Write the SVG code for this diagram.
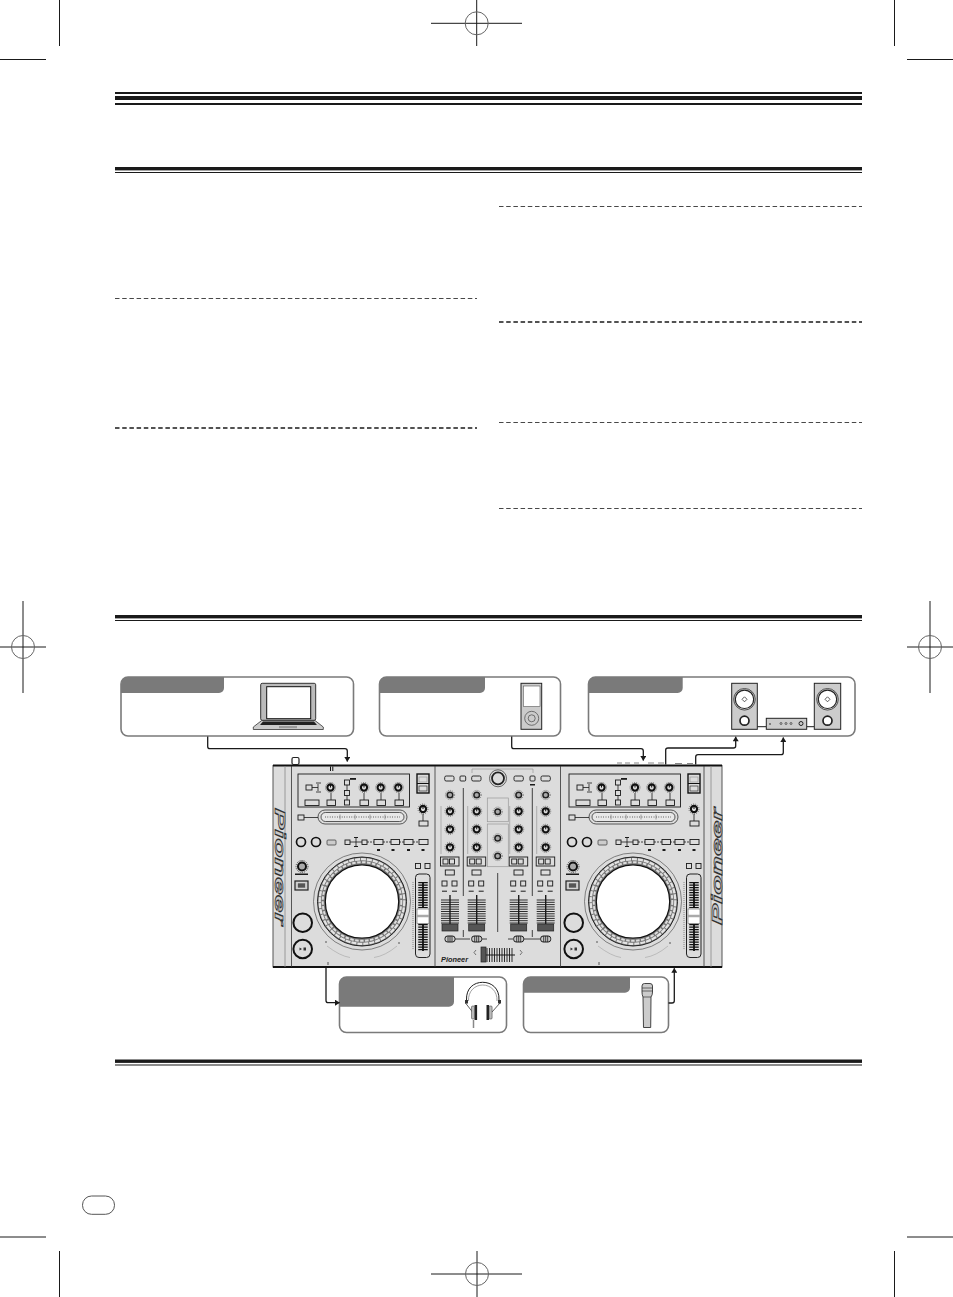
<svg xmlns="http://www.w3.org/2000/svg" xmlns:xlink="http://www.w3.org/1999/xlink" width="953" height="1297" viewBox="0 0 953 1297">
<style>
.crop{stroke:#1a1a1a;stroke-width:1;fill:none}
.cropc{stroke:#666;stroke-width:1;fill:none}
.rule{fill:#1a1a1a}
.box{fill:#fff;stroke:#7a7a7a;stroke-width:1.6}
.hdr{fill:#7a7a7a}
.conn{fill:none;stroke:#1a1a1a;stroke-width:1.3}
.l{fill:none;stroke:#1a1a1a;stroke-width:.8}
.b{fill:#dcdcdc;stroke:#1a1a1a;stroke-width:.9}
.g{fill:none;stroke:#999;stroke-width:.7}
.bl{fill:#1a1a1a}
.logo{font-family:"Liberation Sans",Arial,sans-serif;font-weight:bold;font-style:italic}
</style>
<defs>
<marker id="ah" viewBox="0 0 8 10" refX="7.5" refY="5" markerWidth="6.5" markerHeight="6" markerUnits="userSpaceOnUse" orient="auto"><path d="M0 0L8 5L0 10z" fill="#1a1a1a"/></marker>
<g id="k"><circle r="5" fill="none" stroke="#666" stroke-width="1" stroke-dasharray="1 1.2"/><circle r="3.1" fill="#dcdcdc" stroke="#111" stroke-width="2.1"/><path d="M0 0V-3" stroke="#111" stroke-width="1"/></g>
<g id="ks"><circle r="4.6" fill="none" stroke="#777" stroke-width="1" stroke-dasharray="1 1.1"/><circle r="2.8" fill="#aaa" stroke="#222" stroke-width="1.5"/></g>
<g id="fad"><path d="M-9 1H9M-9 3.3H9M-9 5.6H9M-9 7.9H9M-9 10.2H9M-9 12.5H9M-9 14.8H9M-9 17.1H9M-9 19.4H9M-9 21.7H9M-9 24H9" stroke="#1a1a1a" stroke-width=".9"/><path d="M0 -4V26" stroke="#1a1a1a" stroke-width="1.4"/><rect x="-8" y="25" width="16" height="7" fill="#555" stroke="#222" stroke-width=".7"/></g>
<g id="sw"><rect x="-5" y="-3" width="10" height="6" rx="2.5" fill="#ccc" stroke="#1a1a1a"/><path d="M-2 -3V3M0 -3V3M2 -3V3" stroke="#1a1a1a" stroke-width=".8"/></g>
<g id="chan">
<use xlink:href="#ks" y="795"/><use xlink:href="#k" y="811.3"/><use xlink:href="#k" y="829.3"/><use xlink:href="#k" y="847.3"/>
<path class="g" d="M-9 806V854"/>
<rect class="b" x="-9.5" y="857" width="18.5" height="9"/><rect class="b" x="-7" y="859" width="5" height="5"/><rect class="b" x="-.5" y="859" width="5" height="5"/>
<rect class="b" x="-4.7" y="870" width="9" height="5"/>
<rect class="b" x="-8" y="881" width="5" height="5"/><rect class="b" x="2" y="881" width="5" height="5"/>
<path d="M-8 891.2H-3M2 891.2H7" stroke="#1a1a1a"/>
<use xlink:href="#fad" y="899"/><use xlink:href="#sw" y="939"/>
</g>
<g id="deck">
<rect class="b" x="298" y="774" width="111.5" height="33"/>
<rect class="b" x="306" y="785" width="6" height="5"/><path class="l" d="M312 787.5H318M318 784V791M316 783H321M316 792H321"/>
<use xlink:href="#k" x="330.5" y="787.5"/><use xlink:href="#k" x="364" y="787.5"/><use xlink:href="#k" x="380.7" y="787.5"/><use xlink:href="#k" x="398.3" y="787.5"/>
<rect class="b" x="344.5" y="780" width="5" height="5"/><rect class="b" x="344.5" y="790.5" width="5" height="5"/><rect class="b" x="344.5" y="800" width="5" height="5"/><path class="l" d="M347 785V790.5M347 795.5V800"/>
<rect class="bl" x="350" y="778" width="6" height="1.8"/>
<rect class="b" x="305" y="800" width="14" height="5.5"/><rect class="b" x="327" y="800" width="8.5" height="5.5"/><rect class="b" x="360" y="800" width="8.5" height="5.5"/><rect class="b" x="377" y="800" width="8.5" height="5.5"/><rect class="b" x="395" y="800" width="8.5" height="5.5"/>
<path class="l" d="M331 793V800M364 793V800M381 793V800M399 793V800"/>
<rect x="318" y="810" width="89" height="14" rx="7" fill="none" stroke="#333" stroke-width=".8"/><rect x="321" y="812.5" width="83" height="9" rx="4.5" fill="#e8e8e8" stroke="#333" stroke-width=".8"/>
<path d="M325 817H400" stroke="#777" stroke-width="1.6" stroke-dasharray=".8 1.6"/>
<path d="M340 814.5V819.5M355 814.5V819.5M370 814.5V819.5M385 814.5V819.5" stroke="#666" stroke-width=".6"/>
<rect class="b" x="298" y="815" width="6" height="5"/><path class="l" d="M304 817.5H318"/>
<rect x="417" y="774" width="12" height="19" fill="#dcdcdc" stroke="#111" stroke-width="1.4"/><rect class="g" x="419" y="777" width="8" height="5"/><rect x="419" y="786" width="8" height="5" fill="none" stroke="#333" stroke-width=".7"/><path d="M417 783.5H429" stroke="#111"/>
<use xlink:href="#k" x="423" y="809"/><path class="l" d="M423 814V821"/><rect class="b" x="419" y="821" width="9" height="5"/>
<circle cx="301" cy="842" r="4.5" fill="none" stroke="#111" stroke-width="1.7"/><circle cx="316" cy="842" r="4.5" fill="none" stroke="#111" stroke-width="1.7"/>
<rect x="327" y="840" width="9" height="5" rx="1" fill="#ccc" stroke="#444" stroke-width=".8"/>
<rect class="b" x="345" y="840" width="5" height="4.5"/><path class="l" d="M350 842H362M356 838V846"/><rect class="bl" x="354" y="837" width="4" height="1"/><rect class="bl" x="354" y="846" width="4" height="1"/>
<rect class="b" x="362" y="840" width="5" height="4.5"/><path class="l" d="M367 842H374M383 842H391M399 842H404M413 842H419" stroke-dasharray="2 1"/>
<rect class="b" x="374" y="839.5" width="9" height="5"/><rect class="b" x="391" y="839.5" width="8.5" height="5"/><rect class="b" x="404" y="839.5" width="9" height="5"/><rect class="b" x="419" y="839.5" width="9" height="5"/>
<rect class="bl" x="377" y="849" width="3" height="2"/><rect class="bl" x="391.5" y="849" width="3" height="2"/><rect class="bl" x="407" y="849" width="3" height="2"/><rect class="bl" x="421.5" y="849" width="3" height="2"/>
<circle cx="302" cy="866.5" r="4" fill="#aaa" stroke="#111" stroke-width="2"/><circle cx="302" cy="866.5" r="6" fill="none" stroke="#444" stroke-dasharray="1 1"/><rect class="bl" x="295" y="873.5" width="13" height="1.5"/>
<rect x="295" y="881" width="13" height="9" fill="#ccc" stroke="#222" stroke-width="1.2"/><rect x="297.5" y="883" width="8" height="5" fill="#555" stroke="#eee" stroke-width=".5"/>
<circle cx="302.7" cy="922.7" r="9.3" fill="none" stroke="#111" stroke-width="2"/><circle cx="302.7" cy="949" r="9.3" fill="none" stroke="#111" stroke-width="2"/><path d="M299.5 947.5L302 949L299.5 950.5zM303.5 947.5H306V950.500H303.5z" fill="#333"/>
<circle cx="362" cy="901.5" r="48.5" fill="none" stroke="#555" stroke-width=".7"/>
<circle cx="362" cy="901.5" r="44.5" fill="#777" stroke="#222" stroke-width="1"/>
<circle cx="362" cy="901.5" r="42.3" fill="none" stroke="#e4e4e4" stroke-width="2.3" stroke-dasharray="5 1"/>
<circle cx="362" cy="901.5" r="39.3" fill="none" stroke="#ddd" stroke-width="2" stroke-dasharray="3.500 1.500"/>
<circle cx="362" cy="901.5" r="36.7" fill="#fff" stroke="#111" stroke-width="1.2"/>
<rect class="b" x="415.5" y="863.5" width="5" height="5"/><rect class="b" x="425" y="863.5" width="5" height="5"/>
<rect x="415.5" y="874" width="14.5" height="83.5" rx="3.5" fill="#dcdcdc" stroke="#222" stroke-width="1"/>
<path d="M423 882V908M423 924V951" stroke="#111" stroke-width="9.500" stroke-dasharray="1.200 1.300"/>
<path d="M423 882V908M423 924V951" stroke="#111" stroke-width="1.800"/>
<rect x="417" y="909" width="12" height="14.500" fill="#fff" stroke="#777" stroke-width=".7"/><path d="M417 916H429" stroke="#aaa" stroke-width="2.500"/>
<path d="M413 882V950" stroke="#666" stroke-width=".7" stroke-dasharray="1 1"/>
<path d="M325 942H327M399 942V944M328 962V965" stroke="#333" stroke-width=".8"/>
<path d="M327 946Q340 956 350 957.500M374 957.500Q385 956 397 946" stroke="#999" stroke-width=".5" fill="none"/>
</g>
</defs>
<rect width="953" height="1297" fill="#fff"/>

<g id="crop-marks">
<path class="crop" d="M59.5 0V46M0 59.5H46M894.5 0V46M907 59.5H953M476.7 0V46M431 23.3H522M23 601V693M0 647H46M930 601V693M907 647H953M477 1251V1297M431 1274H522M59.5 1251V1297M0 1237H46M894.5 1251V1297M907 1237H953"/>
<circle class="cropc" cx="476.7" cy="23.3" r="11.5"/><circle class="cropc" cx="23" cy="647" r="11.5"/><circle class="cropc" cx="930" cy="647" r="11.5"/><circle class="cropc" cx="477" cy="1274" r="11.5"/>
</g>

<g id="rules">
<rect class="rule" x="115" y="92" width="747" height="2"/><rect class="rule" x="115" y="96" width="747" height="4"/><rect class="rule" x="115" y="103" width="747" height="2"/>
<rect class="rule" x="115" y="167" width="747" height="3.4"/><rect class="rule" x="115" y="172" width="747" height="1"/>
<rect class="rule" x="115" y="615" width="747" height="3.4"/><rect class="rule" x="115" y="620" width="747" height="1"/>
<rect class="rule" x="115" y="1059.5" width="747" height="3.4"/><rect class="rule" x="115" y="1064.5" width="747" height="1"/>
<g fill="none" stroke-dasharray="4.5 2.7">
<path d="M115 298.5H477M499 206.5H862M499 422.5H862M499 508.5H862" stroke="#333" stroke-width=".9"/>
<path d="M115 428H477M499 322H862" stroke="#1a1a1a" stroke-width="1.6"/>
</g>
<rect x="82.5" y="1196" width="32" height="18.3" rx="9" fill="none" stroke="#555" stroke-width="1"/>
</g>

<g id="computer">
<rect class="box" x="121" y="677" width="232.5" height="59" rx="7"/>
<path class="hdr" d="M121 684a7 7 0 0 1 7-7H224V688a5 5 0 0 1-5 5H121z"/>
<rect x="260.7" y="683.3" width="55" height="37" rx="1.5" fill="#bbb" stroke="#333"/>
<rect x="266.7" y="686.7" width="44" height="32" fill="#fff" stroke="#111"/>
<path d="M261.7 720.5H315L323.3 727V729.5H253.3V727z" fill="#ccc" stroke="#333" stroke-width=".8"/>
<path d="M260 725L263 721.5H314L317 725z" fill="#222"/>
<rect x="279" y="726" width="18" height="2.2" fill="#999"/>
</g>

<g id="player">
<rect class="box" x="379.5" y="677" width="181" height="59" rx="7"/>
<path class="hdr" d="M379.5 684a7 7 0 0 1 7-7H485V688a5 5 0 0 1-5 5H379.5z"/>
<rect x="521" y="683.3" width="20.7" height="46" fill="#ccc" stroke="#222"/>
<rect x="523.3" y="686" width="16.7" height="20.6" fill="#fff" stroke="#555" stroke-width=".6"/>
<circle cx="531.7" cy="718.3" r="7" fill="#ccc" stroke="#555" stroke-width=".8"/><circle cx="531.7" cy="718.3" r="3.5" fill="#ccc" stroke="#555" stroke-width=".8"/>
</g>

<g id="speakers">
<rect class="box" x="588.5" y="677" width="266.5" height="59" rx="7"/>
<path class="hdr" d="M588.5 684a7 7 0 0 1 7-7H682.7V688a5 5 0 0 1-5 5H588.5z"/>
<path d="M757 726.7H766.3M806.7 726.7H814.3" stroke="#1a1a1a" stroke-width="1"/>
<g id="spk-l"><rect x="731.7" y="683.3" width="25.6" height="46" fill="#ccc" stroke="#222"/><circle cx="744.5" cy="699.3" r="10.8" fill="none" stroke="#444" stroke-width=".9"/><circle cx="744.5" cy="699.3" r="9.2" fill="#fff" stroke="#222" stroke-width="1.2"/><path d="M744.5 696.8L747 699.3L744.5 701.8L742 699.3z" fill="none" stroke="#333" stroke-width=".8"/><circle cx="744.5" cy="720.7" r="4.5" fill="#fff" stroke="#222" stroke-width="1.7"/></g>
<g id="spk-r"><rect x="814.3" y="683.3" width="26.4" height="46" fill="#ccc" stroke="#222"/><circle cx="827.5" cy="699.3" r="10.8" fill="none" stroke="#444" stroke-width=".9"/><circle cx="827.5" cy="699.3" r="9.2" fill="#fff" stroke="#222" stroke-width="1.2"/><path d="M827.5 696.8L830 699.3L827.5 701.8L825 699.3z" fill="none" stroke="#333" stroke-width=".8"/><circle cx="827.5" cy="720.7" r="4.5" fill="#fff" stroke="#222" stroke-width="1.7"/></g>
<rect x="766.3" y="718.3" width="40.4" height="11" fill="#ccc" stroke="#222"/>
<circle cx="781" cy="723.5" r="1" fill="none" stroke="#333" stroke-width=".7"/><circle cx="786" cy="723.5" r="1" fill="none" stroke="#333" stroke-width=".7"/><circle cx="791" cy="723.5" r="1" fill="none" stroke="#333" stroke-width=".7"/><circle cx="801" cy="723.5" r="2" fill="none" stroke="#222"/><path d="M769 724H771" stroke="#333"/>
</g>

<g id="headphones">
<rect class="box" x="339.5" y="977" width="167" height="55.5" rx="7"/>
<path class="hdr" d="M339.5 984a7 7 0 0 1 7-7H454V1001.7a5 5 0 0 1-5 5H339.5z"/>
<path d="M466.500 1000C466 988 474 982.300 482.700 982.300S499.500 988 499 1000" fill="none" stroke="#222" stroke-width="1"/>
<path d="M468.500 1001C468 991 475 985 482.700 985S497.500 991 497 1001" fill="none" stroke="#888" stroke-width=".8"/>
<path d="M465.500 1003L472.500 1012M500 1003L492 1012" fill="none" stroke="#333" stroke-width=".8"/>
<rect x="465" y="1000" width="3" height="3.500" fill="#333"/><rect x="498" y="1000" width="3" height="3.500" fill="#333"/>
<rect x="474.500" y="1005" width="2.600" height="15" fill="#222"/><rect x="471.500" y="1006" width="3" height="13" rx="1" fill="#bbb" stroke="#333" stroke-width=".5"/>
<rect x="486.500" y="1005" width="2.600" height="15" fill="#222"/><rect x="489.100" y="1006" width="3" height="13" rx="1" fill="#bbb" stroke="#333" stroke-width=".5"/>
<path d="M473.500 1020V1028" stroke="#888" stroke-width="1.500"/>
</g>

<g id="microphone">
<rect class="box" x="523.500" y="977" width="145" height="55.500" rx="7"/>
<path class="hdr" d="M523.500 984a7 7 0 0 1 7-7H630V987.700a5 5 0 0 1-5 5H523.500z"/>
<path d="M642 986a2.500 2.500 0 0 1 2.500-2.500H650a2.500 2.500 0 0 1 2.500 2.500V992Q652.500 995 651 997L650.700 1027.500H643.500L643 997Q642 995 642 992z" fill="#ccc" stroke="#333" stroke-width=".9"/>
<path d="M642 988H652.500M642 991H652.500M643 997H651" stroke="#333" stroke-width=".7"/>
</g>

<g id="controller">
<rect x="273" y="765" width="449" height="202.500" fill="#dcdcdc"/>
<path d="M273 765V967.500H722V765" fill="none" stroke="#555" stroke-width="1"/>
<path d="M273 765.500H722M273 967H722" stroke="#111" stroke-width="2"/>
<path d="M291.500 766V967M435 766V967M560.500 766V967M704 766V967" stroke="#333" stroke-width=".8"/>
<path d="M285 766V967M711 766V967" stroke="#888" stroke-width=".8"/>
<rect x="292" y="757.500" width="7" height="7" rx="1.500" fill="#fff" stroke="#222" stroke-width="1.200"/>
<path d="M330.500 766.500V771M332.800 766.500V771" stroke="#111" stroke-width="1"/>
<path d="M617 763H622M625 763H630M634 763H639M648 763H654M658 763H664M675 763.500H682M687 763.500H693" stroke="#888" stroke-width="1"/>
<text class="logo" transform="translate(274.500 808) rotate(90)" font-size="14" textLength="117" lengthAdjust="spacingAndGlyphs" fill="#c8c8c8" stroke="#333" stroke-width=".7">Pioneer</text>
<text class="logo" transform="translate(721.500 925) rotate(-90)" font-size="14" textLength="117" lengthAdjust="spacingAndGlyphs" fill="#c8c8c8" stroke="#333" stroke-width=".7">Pioneer</text>
<use id="deck-left" xlink:href="#deck"/>
<use id="deck-right" xlink:href="#deck" x="271"/>
<g id="mixer">
<rect class="b" x="444.700" y="776" width="9.300" height="5" rx="1.500"/><rect class="b" x="460" y="776" width="5.700" height="5" rx="1"/><rect class="b" x="471.700" y="776" width="9.300" height="5" rx="1.500"/>
<rect class="b" x="514" y="776" width="9.300" height="5" rx="1.500"/><rect class="b" x="530" y="776" width="5" height="5" rx="1"/><rect class="b" x="541" y="776" width="9.300" height="5" rx="1.500"/>
<rect class="bl" x="530" y="784" width="5" height="1.500"/>
<path class="g" d="M472 773V769H533V773"/>
<circle cx="498" cy="778.300" r="8.500" fill="none" stroke="#444" stroke-width=".8"/><circle cx="498" cy="778.300" r="6" fill="#dcdcdc" stroke="#222" stroke-width="1.800"/>
<use xlink:href="#chan" x="450"/><use xlink:href="#chan" x="476.700"/><use xlink:href="#chan" x="518.700"/><use xlink:href="#chan" x="545.700"/>
<path class="l" stroke-width="1" d="M463.300 788V896M532.300 788V896M497.700 873V932M463.300 930V937M532.300 930V937"/>
<path class="l" stroke-width="1" d="M455 939H470M482 939H487M508 939H513M523.700 939H540.700"/>
<rect class="g" x="487.300" y="798" width="21" height="23.700"/><rect class="g" x="487.300" y="824" width="21" height="42.700"/>
<use xlink:href="#ks" x="497.700" y="811.700"/><use xlink:href="#ks" x="497.700" y="838.300"/><use xlink:href="#ks" x="497.700" y="856"/>
<path d="M486 955H515" stroke="#1a1a1a" stroke-width="1"/>
<path d="M487 948V962M489.500 948V962M492 948V962M494.500 948V962M497 948V962M499.500 948V962M502 948V962M504.500 948V962M507 948V962M509.500 948V962M512 948V962" stroke="#1a1a1a" stroke-width=".9"/>
<rect x="481" y="947" width="5" height="15" fill="#555" stroke="#222" stroke-width=".7"/>
<path d="M476 950L474 952.500L476 955M520 950L522 952.500L520 955" fill="none" stroke="#444" stroke-width=".7"/>
<text class="logo" x="441" y="962" font-size="6.500" textLength="27" lengthAdjust="spacingAndGlyphs" fill="#222">Pioneer</text>
</g>
</g>

<g id="connectors">
<path class="conn" marker-end="url(#ah)" d="M207.700 736.500V746.500Q207.700 748.700 210 748.700H345Q347.300 748.700 347.300 751V761.500"/>
<path class="conn" marker-end="url(#ah)" d="M511.700 736.500V746.500Q511.700 748.700 514 748.700H641Q643.300 748.700 643.300 751V760.500"/>
<path class="conn" marker-end="url(#ah)" d="M665.700 764.500V750Q665.700 748 668 748H733.500Q735.700 748 735.700 746V736.700"/>
<path class="conn" marker-end="url(#ah)" d="M695.700 764.500V757Q695.700 754.700 698 754.700H781Q783.300 754.700 783.300 752.500V737.500"/>
<path class="conn" marker-end="url(#ah)" d="M326 967.500V1000.500Q326 1002.700 328.300 1002.700H339.500"/>
<path class="conn" marker-end="url(#ah)" d="M668.500 1003H672Q674.300 1003 674.300 1000.700V968.300"/>
</g>
</svg>
